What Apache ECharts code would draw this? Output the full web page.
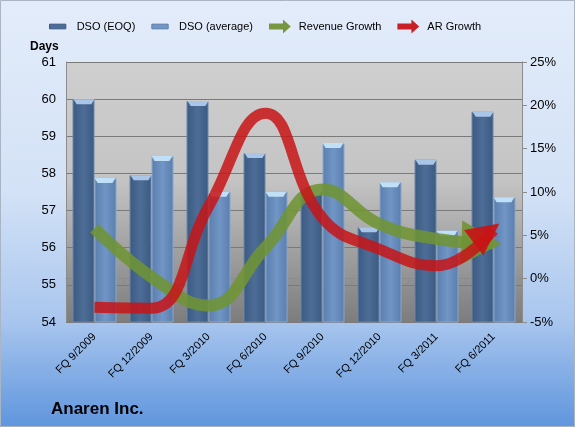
<!DOCTYPE html>
<html>
<head>
<meta charset="utf-8">
<script src="https://cdn.jsdelivr.net/npm/echarts@6/dist/echarts.min.js"></script>
<style>
  html, body { margin: 0; padding: 0; }
  #chart { width: 575px; height: 427px; }
</style>
</head>
<body>
<div id="chart"></div>
<script>
const categories = ["FQ 9/2009", "FQ 12/2009", "FQ 3/2010", "FQ 6/2010", "FQ 9/2010", "FQ 12/2010", "FQ 3/2011", "FQ 6/2011"];
const dsoEoq = [60.0, 57.95, 59.95, 58.55, 57.55, 56.55, 58.37, 59.66];
const dsoAvg = [57.88, 58.47, 57.51, 57.51, 58.82, 57.76, 56.46, 57.36];
const revenueGrowth = [5.8, 0.2, -3.1, 3.6, 10.3, 6.3, 4.6, 4.1];
const arGrowth = [-3.3, -3.4, 8.3, 19.1, 7.0, 3.4, 1.5, 5.6];

const FONT = "Liberation Sans";
const tri = "path://M5,0 L10,10 L0,10 Z";
const arrowIcon = "path://M0,8 L18,8 L18,3 L28,12 L18,21 L18,16 L0,16 Z";
const barIcon = "path://M0,0 M0,8 L28,8 L28,16 L0,16 Z M28,24";

const chartDom = document.getElementById("chart");
const myChart = echarts.init(chartDom, null, { renderer: "canvas" });

// last point of a growth line gets an arrow head
function withArrow(values, size, rot, offset, color) {
  return values.map((v, i) => {
    if (i !== values.length - 1) return v;
    return {
      value: v,
      symbol: tri,
      symbolSize: size,
      symbolRotate: rot,
      symbolOffset: offset,
      itemStyle: { color: color, opacity: 1 },
    };
  });
}

const darkGrad = new echarts.graphic.LinearGradient(0, 0, 1, 0, [
  { offset: 0, color: "#3b5a82" },
  { offset: 0.5, color: "#4d6d97" },
  { offset: 1, color: "#3b5a82" },
]);
const lightGrad = new echarts.graphic.LinearGradient(0, 0, 1, 0, [
  { offset: 0, color: "#5a7eac" },
  { offset: 0.5, color: "#7096c6" },
  { offset: 1, color: "#5a7eac" },
]);

const option = {
  backgroundColor: new echarts.graphic.LinearGradient(0, 0, 0, 1, [
    { offset: 0, color: "#e3ecfa" },
    { offset: 0.45, color: "#d3e2f6" },
    { offset: 0.75, color: "#a9c6ee" },
    { offset: 1, color: "#5f95dd" },
  ]),
  textStyle: { fontFamily: FONT },
  animation: false,
  graphic: [
    {
      type: "rect",
      shape: { x: 0.5, y: 0.5, width: 574, height: 426 },
      style: { fill: "none", stroke: "#a9b4c4", lineWidth: 1 },
      z: 100,
    },
    {
      type: "text",
      left: 30,
      top: 41,
      style: { text: "Days", font: "bold 12px " + FONT, fill: "#000" },
    },
    {
      type: "text",
      left: 51,
      top: 401,
      style: { text: "Anaren Inc.", font: "bold 17px " + FONT, fill: "#000" },
    },
  ],
  legend: {
    top: 14,
    left: 44,
    itemWidth: 28,
    itemHeight: 14,
    itemGap: 16,
    textStyle: { fontSize: 11, color: "#000", fontFamily: FONT },
    data: [
      { name: "DSO (EOQ)", icon: barIcon, itemStyle: { color: "#4d6d97", borderColor: "#3b5a82", borderWidth: 1 } },
      { name: "DSO (average)", icon: barIcon, itemStyle: { color: "#7096c6", borderColor: "#5a7eac", borderWidth: 1 } },
      { name: "Revenue Growth", icon: arrowIcon, itemStyle: { color: "#77963f", opacity: 1 } },
      { name: "AR Growth", icon: arrowIcon, itemStyle: { color: "#c82024", opacity: 1 } },
    ],
  },
  grid: {
    left: 66,
    right: 53,
    top: 62,
    bottom: 105,
    show: true,
    borderWidth: 0,
    backgroundColor: new echarts.graphic.LinearGradient(0, 0, 0, 1, [
      { offset: 0, color: "#cfcfcf" },
      { offset: 0.45, color: "#c4c4c4" },
      { offset: 1, color: "#7d7d7d" },
    ]),
  },
  xAxis: {
    type: "category",
    data: categories,
    boundaryGap: true,
    axisLine: { lineStyle: { color: "#8c8c8c", width: 1 } },
    axisTick: { show: true, length: 5, lineStyle: { color: "#8c8c8c" } },
    axisLabel: { rotate: 45, interval: 0, fontSize: 11, color: "#000", margin: 13, fontFamily: FONT },
  },
  yAxis: [
    {
      type: "value",
      min: 54,
      max: 61,
      interval: 1,
      axisLine: { show: true, lineStyle: { color: "#8c8c8c" } },
      axisTick: { show: false },
      splitLine: { lineStyle: { color: "#7a7a7a", width: 1 } },
      axisLabel: { fontSize: 13, color: "#000", margin: 10, fontFamily: FONT },
    },
    {
      type: "value",
      min: -5,
      max: 25,
      interval: 5,
      axisLine: { show: true, lineStyle: { color: "#8c8c8c" } },
      axisTick: { show: true, length: 5, lineStyle: { color: "#8c8c8c" } },
      splitLine: { show: false },
      axisLabel: { fontSize: 13, color: "#000", margin: 8, formatter: "{value}%", fontFamily: FONT },
    },
  ],
  series: [
    {
      name: "DSO (EOQ)",
      type: "bar",
      data: dsoEoq,
      barWidth: 22,
      barGap: "0%",
      itemStyle: { color: darkGrad, borderColor: "#6f87a8", borderWidth: 1 },
      z: 2,
    },
    {
      name: "DSO (average)",
      type: "bar",
      data: dsoAvg,
      barWidth: 22,
      barGap: "0%",
      itemStyle: { color: lightGrad, borderColor: "#8aa6cc", borderWidth: 1 },
      z: 2,
    },
    {
      name: "capEoq",
      type: "pictorialBar",
      data: dsoEoq,
      symbol: "path://M0,0 L10,0 L8.5,3 L1.5,3 Z",
      symbolSize: [21, 5],
      symbolPosition: "end",
      symbolOffset: ["-50%", 0],
      itemStyle: { color: "#a9c6e8" },
      z: 3,
      silent: true,
    },
    {
      name: "capAvg",
      type: "pictorialBar",
      data: dsoAvg,
      symbol: "path://M0,0 L10,0 L8.5,3 L1.5,3 Z",
      symbolSize: [21, 5],
      symbolPosition: "end",
      symbolOffset: ["50%", 0],
      itemStyle: { color: "#bfe0f6" },
      z: 3,
      silent: true,
    },
    {
      name: "Revenue Growth",
      type: "line",
      yAxisIndex: 1,
      smooth: 0.45,
      symbol: "none",
      showSymbol: true,
      data: withArrow(revenueGrowth, [44, 40], -92, [-12, 0], "rgba(112,148,52,0.92)"),
      lineStyle: { color: "rgba(112,148,52,0.88)", width: 12, cap: "butt" },
      itemStyle: { color: "rgba(112,148,52,0.92)" },
      z: 5,
    },
    {
      name: "AR Growth",
      type: "line",
      yAxisIndex: 1,
      smooth: 0.45,
      symbol: "none",
      showSymbol: true,
      data: withArrow(arGrowth, [32, 32], -53, [-7, 3], "rgba(200,20,22,0.92)"),
      lineStyle: { color: "rgba(200,20,22,0.85)", width: 11, cap: "butt" },
      itemStyle: { color: "rgba(200,20,22,0.92)" },
      z: 6,
    },
  ],
};

myChart.setOption(option);
</script>
</body>
</html>
